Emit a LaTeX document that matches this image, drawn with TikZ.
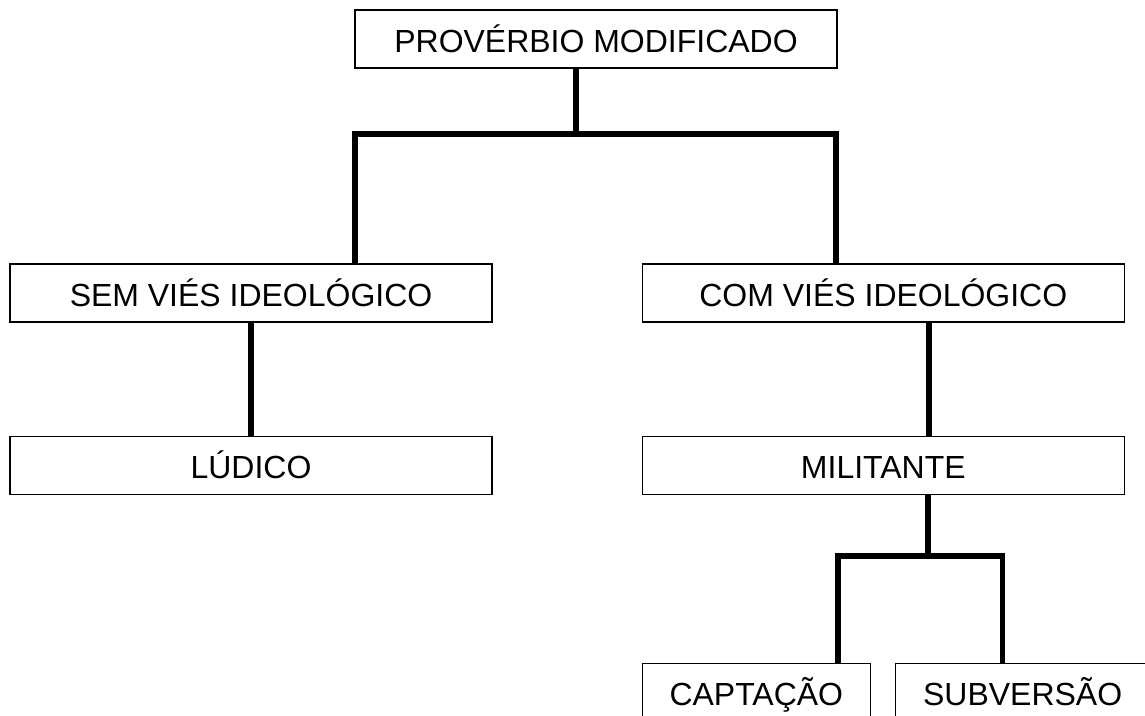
\documentclass[tikz,border=0pt]{standalone}
\usepackage{fontspec}
\setmainfont{Liberation Sans}
\usetikzlibrary{positioning}

\begin{document}
\begin{tikzpicture}[x=0.02cm, y=-0.02cm]
\tikzset{block/.style={rectangle, align=center, draw=black, line width=0.8pt,
			text height=15pt, text depth=0pt,
			minimum width=9.64cm, minimum height=1.16cm, font=\fontsize{18.2}{22}\selectfont},
		small/.style={block, minimum width=4.56cm},
		link/.style={line width=3.2pt, line join=miter}}
\useasboundingbox (0,0) rectangle (1145,716);
\node[block] (topo) at (596,39) {PROVÉRBIO MODIFICADO};
\node[block] (sem) at (251,293) {SEM VIÉS IDEOLÓGICO};
\node[block, right=2.98cm of sem] (com) {COM VIÉS IDEOLÓGICO};
\node[block, below=2.26cm of sem] (ludico) {LÚDICO};
\node[block, below=2.26cm of com] (milit) {MILITANTE};
\node[small, below right=3.36cm and 0cm of milit.south west] (capt) {CAPTAÇÃO};
\node[small, right=0.48cm of capt, minimum width=5.08cm] (subv) {SUBVERSÃO};
% first split
\coordinate (j1) at ([xshift=-0.4cm]topo.south |- 0,134);
\draw[link] ([xshift=-0.4cm]topo.south) -- (j1);
\draw[link] ([xshift=2.08cm]sem.north) |- (j1) -| ([xshift=-0.94cm]com.north);
\draw[link] (sem) -- (ludico);
\draw[link] ([xshift=0.92cm]com.south) -- ([xshift=0.92cm]com.south |- milit.north);
% second split
\coordinate (j2) at ([xshift=0.89cm]milit.south |- 0,556);
\draw[link] ([xshift=0.89cm]milit.south) -- (j2);
\draw[link] ([xshift=1.64cm]capt.north) |- (j2) -| ([xshift=-0.4cm]subv.north);
\end{tikzpicture}
\end{document}
